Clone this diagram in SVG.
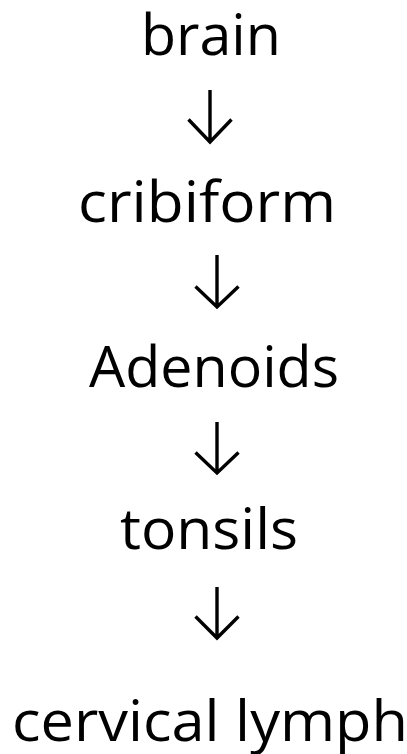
<svg xmlns="http://www.w3.org/2000/svg" width="407" height="754" viewBox="0 0 407 754">
<style>
.t{font-family:"Open Sans","Noto Sans","Liberation Sans",sans-serif;font-size:57px;fill:#000;text-anchor:middle}
.a{fill:none;stroke:#000;stroke-width:3.4;stroke-linecap:butt;stroke-linejoin:miter}
</style>
<rect width="407" height="754" fill="#fff"/>
<g id="brain"><text class="t" x="211" y="55" textLength="140" lengthAdjust="spacingAndGlyphs">brain</text></g>
<g id="cribiform"><text class="t" x="207" y="222" textLength="258" lengthAdjust="spacingAndGlyphs">cribiform</text></g>
<g id="adenoids"><text class="t" x="214" y="387" textLength="250" lengthAdjust="spacingAndGlyphs">Adenoids</text></g>
<g id="tonsils"><text class="t" x="209" y="549" textLength="178" lengthAdjust="spacingAndGlyphs">tonsils</text></g>
<g id="cervical-lymph"><text class="t" x="210" y="741" textLength="396" lengthAdjust="spacingAndGlyphs">cervical lymph</text></g>
<g id="connectors">
<path class="a" d="M210 90V142M188.5 119.5L210 142L231.5 119.5"/>
<path class="a" d="M217 255V307M195.5 286.5L217 307L238.5 286.5"/>
<path class="a" d="M217 422V473M195.5 452.5L217 473L238.5 452.5"/>
<path class="a" d="M217 587V638M195.5 616.5L217 638L238.5 616.5"/>
</g>
</svg>
